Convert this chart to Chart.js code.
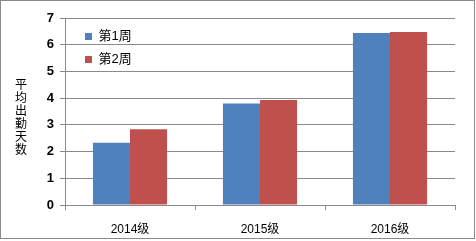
<!DOCTYPE html>
<html>
<head>
<meta charset="utf-8">
<script src="https://cdn.jsdelivr.net/npm/chart.js@4"></script>
<style>
  html, body { margin: 0; padding: 0; background: #fff; }
  #wrap { width: 476px; height: 241px; }
</style>
</head>
<body>
<div id="wrap"><canvas id="grafico" width="476" height="241"></canvas></div>
<script>
// dados
const categorias = ['2014级', '2015级', '2016级'];
const semana1 = [2.33, 3.80, 6.44];
const semana2 = [2.84, 3.93, 6.48];
const nomesSeries = ['第1周', '第2周'];
const tituloY = '平均出勤天数';

const fonte = "'Liberation Sans', 'Noto Sans CJK SC', sans-serif";
const cinza = '#8a8a8a';

// legenda dentro da área do gráfico, um pouco afastada do canto
const posLegenda = {
  id: 'posLegenda',
  afterLayout(chart) {
    chart.legend.left = chart.chartArea.left + 10;
    chart.legend.top = chart.chartArea.top + 2;
  }
};

// moldura externa + título do eixo Y em pé (um caractere por linha)
const extras = {
  id: 'extras',
  afterDraw(chart) {
    const ctx = chart.ctx;
    ctx.save();
    ctx.strokeStyle = cinza;
    ctx.lineWidth = 1;
    ctx.strokeRect(0.5, 0.5, 474, 238);
    ctx.fillStyle = '#000';
    ctx.font = "12px 'Noto Sans CJK SC', sans-serif";
    ctx.textAlign = 'center';
    ctx.textBaseline = 'middle';
    [...tituloY].forEach((c, i) => ctx.fillText(c, 21, 84 + i * 13));
    ctx.restore();
  }
};

new Chart(document.getElementById('grafico'), {
  type: 'bar',
  data: {
    labels: categorias,
    datasets: [
      { label: nomesSeries[0], data: semana1, backgroundColor: '#4f81bd' },
      { label: nomesSeries[1], data: semana2, backgroundColor: '#c0504d' }
    ]
  },
  options: {
    responsive: false,
    animation: false,
    layout: { padding: { left: 0, top: 18, right: 21, bottom: 0 } },
    datasets: { bar: { categoryPercentage: 0.57, barPercentage: 1 } },
    plugins: {
      tooltip: { enabled: false },
      legend: {
        position: 'chartArea',
        align: 'start',
        labels: {
          boxWidth: 7, boxHeight: 7, padding: 10,
          color: '#000',
          font: { family: fonte, size: 13 }
        }
      }
    },
    scales: {
      x: {
        afterFit: s => { s.height = 36; },
        grid: { offset: true, drawOnChartArea: false, color: cinza, tickLength: 5 },
        border: { color: cinza },
        ticks: { color: '#000', padding: 12, font: { family: fonte, size: 12 } }
      },
      y: {
        min: 0, max: 7,
        afterFit: s => { s.width = 65; },
        grid: { color: cinza, tickLength: 5 },
        border: { color: cinza },
        ticks: { stepSize: 1, color: '#000', padding: 6, font: { family: fonte, size: 13, weight: 'bold' } }
      }
    }
  },
  plugins: [posLegenda, extras]
});
</script>
</body>
</html>
